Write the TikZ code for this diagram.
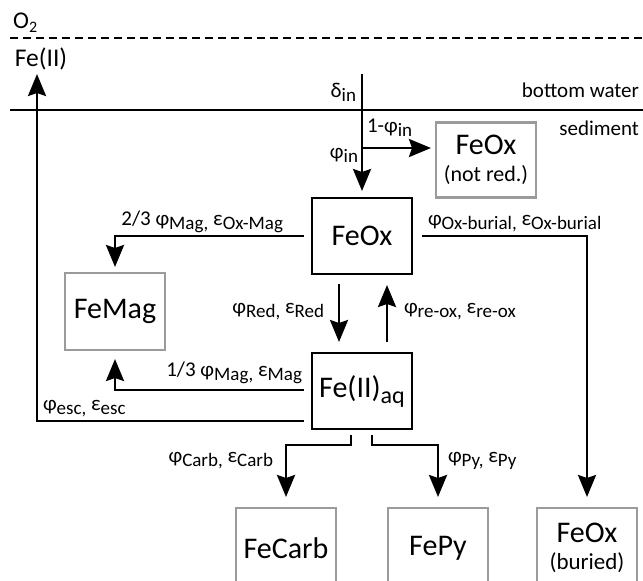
\documentclass[tikz,border=0pt]{standalone}
\usepackage{fontspec}
\setmainfont{Carlito}
\usepackage{graphicx}
\usetikzlibrary{arrows.meta}
\definecolor{boxgray}{RGB}{155,155,155}
\newcommand{\lo}[1]{\raisebox{-4.5pt}{\fontsize{19}{19}\selectfont #1}}
\newcommand{\loB}[1]{\raisebox{-6pt}{\fontsize{24}{24}\selectfont #1}}
\tikzset{
  blk/.style={draw=black, line width=2.6pt, minimum width=100pt, minimum height=76pt,
    inner sep=0pt, outer sep=0pt, font=\fontsize{30}{27}\selectfont},
  gry/.style={blk, draw=boxgray},
  arr/.style={line width=2.6pt, -{Stealth[length=22pt,width=18pt,inset=3pt]}},
  bline/.style={line width=2.6pt},
  lbl/.style={font=\fontsize{21}{22}\selectfont, inner sep=0pt, outer sep=0pt},
}
\begin{document}
\begin{tikzpicture}[x=1pt,y=-1pt]
\useasboundingbox (0,0) rectangle (643,581);
\clip (0,0) rectangle (643,581);

% boundary lines
\draw[bline, dash pattern=on 8pt off 5pt] (10,38) -- (643,38);
\draw[bline] (10,110) -- (643,110);

% boxes
\node[blk] (feox) at (362,236) {FeOx};
\node[blk] (feaq) at (362,391) {Fe(II)\loB{aq}};
\node[gry, minimum height=75pt, align=center] (notred) at (486,160)
  {FeOx\\{\fontsize{22}{27}\selectfont (not red.)}};
\node[gry, minimum height=77pt] (femag) at (115,311.5) {FeMag};
\node[gry, minimum height=80pt, anchor=north] (fecarb) at (286,508) {FeCarb};
\node[gry, minimum height=80pt, anchor=north] (fepy) at (438,508) {FePy};
\node[gry, minimum height=80pt, anchor=north, align=center] (feburied) at (587,508)
  {FeOx\\{\fontsize{23}{27}\selectfont (buried)}};

% free ends
\coordinate (intop) at (362,74);
\coordinate (branch) at (362,148);
\coordinate (esctip) at (37,74);

% connectors
\draw[arr, shorten >=7pt] (intop) -- (feox.north);
\draw[arr, shorten >=5pt] (branch) -- (notred.west |- branch);
\draw[arr, shorten <=8pt, shorten >=6pt] (feox.west) -| (femag.north);
\draw[arr, shorten <=10pt, shorten >=11pt] (feox.east) -| (feburied.north);
\draw[arr, shorten <=10pt, shorten >=11pt] ([xshift=-23pt]feox.south) -- ([xshift=-23pt]feaq.north);
\draw[arr, shorten <=11pt, shorten >=11pt] ([xshift=25pt]feaq.north) -- ([xshift=25pt]feox.south);
\draw[arr, shorten <=8pt, shorten >=9pt] ([yshift=1pt]feaq.west) -| (femag.south);
\draw[arr, shorten <=8pt] ([yshift=-30pt]feaq.west) -| (esctip);
\draw[arr, shorten <=6pt, shorten >=11pt] ([xshift=-11pt]feaq.south) -- ++(0,16) -| (fecarb.north);
\draw[arr, shorten <=6pt, shorten >=11pt] ([xshift=10pt]feaq.south) -- ++(0,16) -| (fepy.north);

% labels
\node[inner sep=0pt, anchor=base west, font=\fontsize{24}{24}\selectfont] (o2) at (13,28) {O\raisebox{-4pt}{\fontsize{16}{16}\selectfont 2}};
\node[font=\fontsize{25.5}{25}\selectfont, inner sep=0pt, anchor=base] (fe2) at (41,66) {Fe(II)};
\node[lbl, anchor=base east] (ldin) at (356,97) {δ\lo{in}};
\node[lbl, anchor=base west] (lnotin) at (367,132) {1-φ\lo{in}};
\node[lbl, anchor=base east] (lin) at (358,158) {φ\lo{in}};
\node[lbl, anchor=base east] (lbw) at (639,97) {bottom water};
\node[lbl, anchor=base east] (lsed) at (639,135) {sediment};
\node[lbl, anchor=base east] (lmag23) at (283,225) {2/3 φ\lo{Mag,} ε\lo{Ox-Mag}};
\node[lbl, anchor=base west] (loxb) at (428,225) {φ\lo{Ox-burial,} ε\lo{Ox-burial}};
\node[lbl, anchor=base east] (lred) at (324,313) {φ\lo{Red,} ε\lo{Red}};
\node[lbl, anchor=base west] (lreox) at (404,313) {φ\lo{re-ox,} ε\lo{re-ox}};
\node[lbl, anchor=base east] (lmag13) at (302,376) {1/3 φ\lo{Mag,} ε\lo{Mag}};
\node[lbl, anchor=base west] (lesc) at (43,410) {φ\lo{esc,} ε\lo{esc}};
\node[lbl, anchor=base east] (lcarb) at (273,462) {φ\lo{Carb,} ε\lo{Carb}};
\node[lbl, anchor=base west] (lpy) at (448,462) {φ\lo{Py,} ε\lo{Py}};
\end{tikzpicture}
\end{document}
